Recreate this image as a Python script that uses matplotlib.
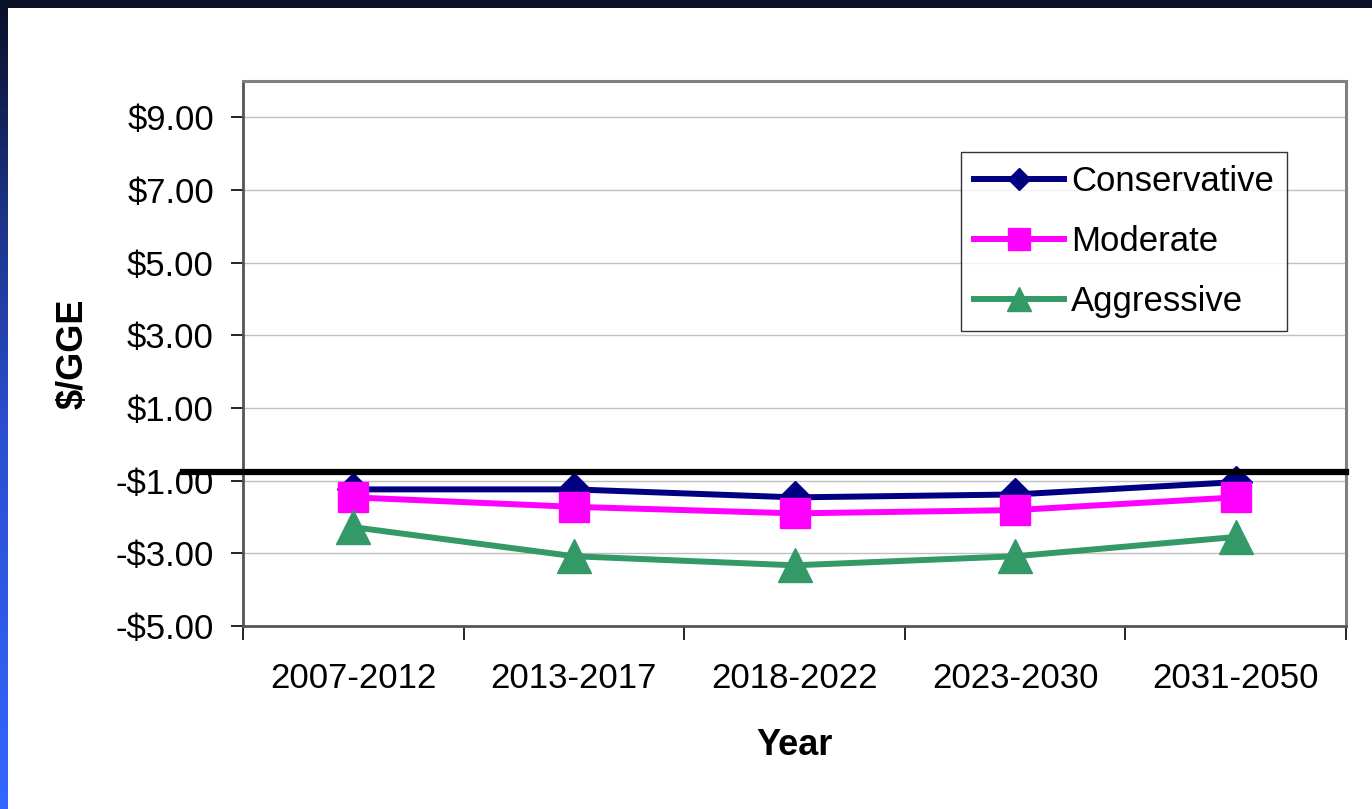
import matplotlib
matplotlib.use("Agg")
from matplotlib import pyplot as plt
from matplotlib.colors import LinearSegmentedColormap
import numpy as np

plt.rcParams['font.family'] = ['Liberation Sans', 'DejaVu Sans']

periods = ['2007-2012', '2013-2017', '2018-2022', '2023-2030', '2031-2050']
conservative = [-1.24, -1.24, -1.46, -1.38, -1.04]
moderate = [-1.46, -1.72, -1.90, -1.81, -1.46]
aggressive = [-2.28, -3.08, -3.33, -3.08, -2.55]
ref_level = -0.75

yticks = [-5, -3, -1, 1, 3, 5, 7, 9]
ytick_labels = ['-\\$5.00', '-\\$3.00', '-\\$1.00', '\\$1.00', '\\$3.00',
                '\\$5.00', '\\$7.00', '\\$9.00']

W, H = 1372, 809
fig = plt.figure(figsize=(W / 100, H / 100), dpi=100)
fig.patch.set_facecolor('white')

# slide frame: dark band on top, blue gradient strip on the left
fig.patches.append(plt.Rectangle((0, 1 - 8 / H), 1, 8 / H, transform=fig.transFigure,
                                 facecolor='#0b1129', edgecolor='none', zorder=-5))
strip = fig.add_axes([0, 0, 8 / W, 1 - 8 / H])
strip.axis('off')
grad_cmap = LinearSegmentedColormap.from_list(
    'frame', [(0, '#0b1129'), (0.25, '#1b3385'), (0.52, '#2a4ecf'), (1, '#3366ff')])
strip.imshow(np.linspace(0, 1, 256).reshape(-1, 1), aspect='auto', cmap=grad_cmap,
             extent=[0, 1, 0, 1], origin='upper')

ax = fig.add_axes([243 / W, (H - 626) / H, 1103 / W, 545 / H])
x = np.arange(len(periods))

ax.plot(x, conservative, color='#000080', lw=4.3, marker='D', ms=16,
        label='Conservative', zorder=3)
ax.plot(x, moderate, color='#ff00ff', lw=4.3, marker='s', ms=22,
        label='Moderate', zorder=4)
ax.plot(x, aggressive, color='#339966', lw=4.3, marker='^', ms=24,
        label='Aggressive', zorder=5)

ax.axhline(ref_level, xmin=-60 / 1103, xmax=1, color='black', lw=4.5,
           clip_on=False, zorder=6)

ax.set_xlim(-0.5, len(periods) - 0.5)
ax.set_ylim(-5, 10)
ax.set_yticks(yticks)
ax.set_yticklabels(ytick_labels)
ax.set_xticks(x)
ax.set_xticklabels(periods)
ax.set_xticks(np.arange(len(periods) + 1) - 0.5, minor=True)
ax.tick_params(axis='x', which='major', length=0, pad=26, labelsize=25)
ax.tick_params(axis='x', which='minor', length=10, width=1.2, direction='out', color='black')
ax.tick_params(axis='y', length=9, width=1.2, direction='out', color='black',
               pad=12, labelsize=25)
ax.yaxis.grid(True, color='#c0c0c0', lw=1)
ax.set_axisbelow(True)

for side in ['top', 'right']:
    ax.spines[side].set_color('#808080')
    ax.spines[side].set_linewidth(2.2)
for side in ['left', 'bottom']:
    ax.spines[side].set_color('#555555')
    ax.spines[side].set_linewidth(2)

ax.set_ylabel('\\$/GGE', fontsize=26, fontweight='bold', va='center')
ax.yaxis.set_label_coords(-0.154, 0.5)
ax.set_xlabel('Year', fontsize=26, fontweight='bold')
ax.xaxis.set_label_coords(0.5, -0.188)

leg = ax.legend(loc='upper left', bbox_to_anchor=(0.651, 0.8697), borderaxespad=0,
                fontsize=25, handlelength=2.6, handletextpad=0.2, borderpad=0.37,
                labelspacing=0.78, markerscale=0.7, fancybox=False, frameon=True)
leg.get_frame().set_edgecolor('black')
leg.get_frame().set_linewidth(1)
leg.set_zorder(7)

plt.savefig('out.png', dpi=100)
